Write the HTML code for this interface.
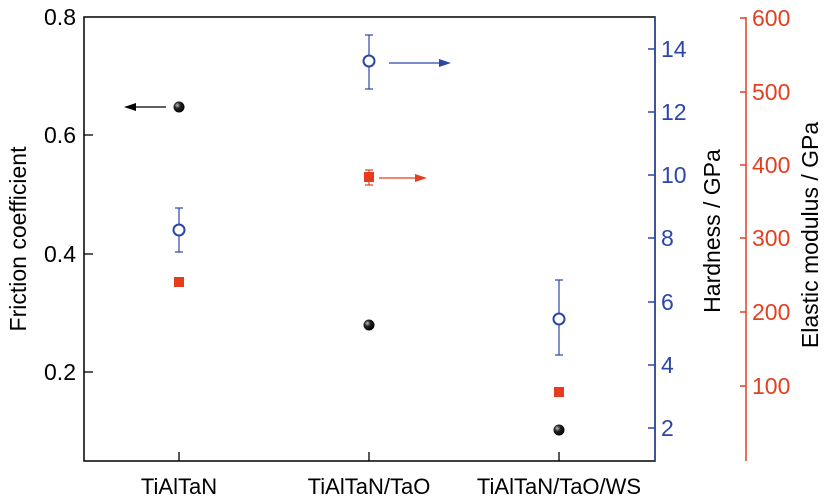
<!DOCTYPE html>
<html><head><style>body{margin:0;background:#fff}svg{display:block}text{font-family:"Liberation Sans",sans-serif}</style></head><body>
<svg width="827" height="504" viewBox="0 0 827 504">
<defs><radialGradient id="g" cx="0.35" cy="0.35" r="0.7"><stop offset="0" stop-color="#bbb"/><stop offset="0.4" stop-color="#222"/><stop offset="1" stop-color="#000"/></radialGradient></defs>
<rect x="84" y="17" width="571" height="444" fill="none" stroke="#000" stroke-width="1.5"/>
<g stroke="#000" stroke-width="1.3"><line x1="84" y1="135" x2="93" y2="135"/><line x1="84" y1="254" x2="93" y2="254"/><line x1="84" y1="372" x2="93" y2="372"/>
<line x1="179" y1="452" x2="179" y2="461"/><line x1="369" y1="452" x2="369" y2="461"/><line x1="559" y1="452" x2="559" y2="461"/></g>
<g font-size="23" fill="#000" text-anchor="end"><text x="76" y="25">0.8</text><text x="76" y="143">0.6</text><text x="76" y="262">0.4</text><text x="76" y="380">0.2</text></g>
<text transform="translate(26,239) rotate(-90)" font-size="23" text-anchor="middle">Friction coefficient</text>
<g font-size="22" text-anchor="middle"><text x="179" y="494">TiAlTaN</text><text x="369" y="494">TiAlTaN/TaO</text><text x="559" y="494">TiAlTaN/TaO/WS</text></g>
<g stroke="#2c46a8" stroke-width="1.5"><line x1="655" y1="17" x2="655" y2="461"/>
<line x1="648" y1="49" x2="655" y2="49"/><line x1="648" y1="112" x2="655" y2="112"/><line x1="648" y1="175" x2="655" y2="175"/><line x1="648" y1="238" x2="655" y2="238"/><line x1="648" y1="302" x2="655" y2="302"/><line x1="648" y1="365" x2="655" y2="365"/><line x1="648" y1="428" x2="655" y2="428"/></g>
<g font-size="23" fill="#2c46a8"><text x="661" y="57">14</text><text x="661" y="120">12</text><text x="661" y="183">10</text><text x="661" y="246">8</text><text x="661" y="310">6</text><text x="661" y="373">4</text><text x="661" y="436">2</text></g>
<text transform="translate(720,231) rotate(-90)" font-size="23" text-anchor="middle">Hardness / GPa</text>
<g stroke="#e2401f" stroke-width="1.5"><line x1="746" y1="17" x2="746" y2="461"/>
<line x1="740" y1="18" x2="746" y2="18"/><line x1="740" y1="92" x2="746" y2="92"/><line x1="740" y1="165" x2="746" y2="165"/><line x1="740" y1="238" x2="746" y2="238"/><line x1="740" y1="312" x2="746" y2="312"/><line x1="740" y1="386" x2="746" y2="386"/></g>
<g font-size="23" fill="#e2401f"><text x="752" y="26">600</text><text x="752" y="100">500</text><text x="752" y="173">400</text><text x="752" y="246">300</text><text x="752" y="320">200</text><text x="752" y="394">100</text></g>
<text transform="translate(818,235) rotate(-90)" font-size="23" text-anchor="middle">Elastic modulus / GPa</text>
<g stroke="#2c46a8" stroke-width="1.2"><line x1="179" y1="208" x2="179" y2="252"/><line x1="175" y1="208" x2="183" y2="208"/><line x1="175" y1="252" x2="183" y2="252"/>
<line x1="369" y1="35" x2="369" y2="89"/><line x1="365" y1="35" x2="373" y2="35"/><line x1="365" y1="89" x2="373" y2="89"/>
<line x1="559" y1="280" x2="559" y2="355"/><line x1="555" y1="280" x2="563" y2="280"/><line x1="555" y1="355" x2="563" y2="355"/></g>
<g stroke="#e2401f" stroke-width="1.2"><line x1="369" y1="170" x2="369" y2="185"/><line x1="365" y1="170" x2="373" y2="170"/><line x1="365" y1="185" x2="373" y2="185"/></g>
<g fill="#fff" stroke="#2c46a8" stroke-width="2"><circle cx="179" cy="230" r="5.5"/><circle cx="369" cy="61" r="5.5"/><circle cx="559" cy="319" r="5.5"/></g>
<g fill="#e63b1c"><rect x="174" y="277" width="10" height="10"/><rect x="364" y="172" width="10" height="10"/><rect x="554" y="387" width="10" height="10"/></g>
<g fill="url(#g)"><circle cx="179" cy="107" r="5.5"/><circle cx="369" cy="325" r="5.5"/><circle cx="559" cy="430" r="5.5"/></g>
<line x1="166" y1="107" x2="132" y2="107" stroke="#000" stroke-width="1.2"/><polygon points="124,107 136,103 136,111" fill="#000"/>
<line x1="389" y1="63" x2="442" y2="63" stroke="#2c46a8" stroke-width="1.2"/><polygon points="451,63 439,59 439,67" fill="#2c46a8"/>
<line x1="379" y1="178" x2="418" y2="178" stroke="#e2401f" stroke-width="1.2"/><polygon points="427,178 415,174 415,182" fill="#e2401f"/>
</svg></body></html>
